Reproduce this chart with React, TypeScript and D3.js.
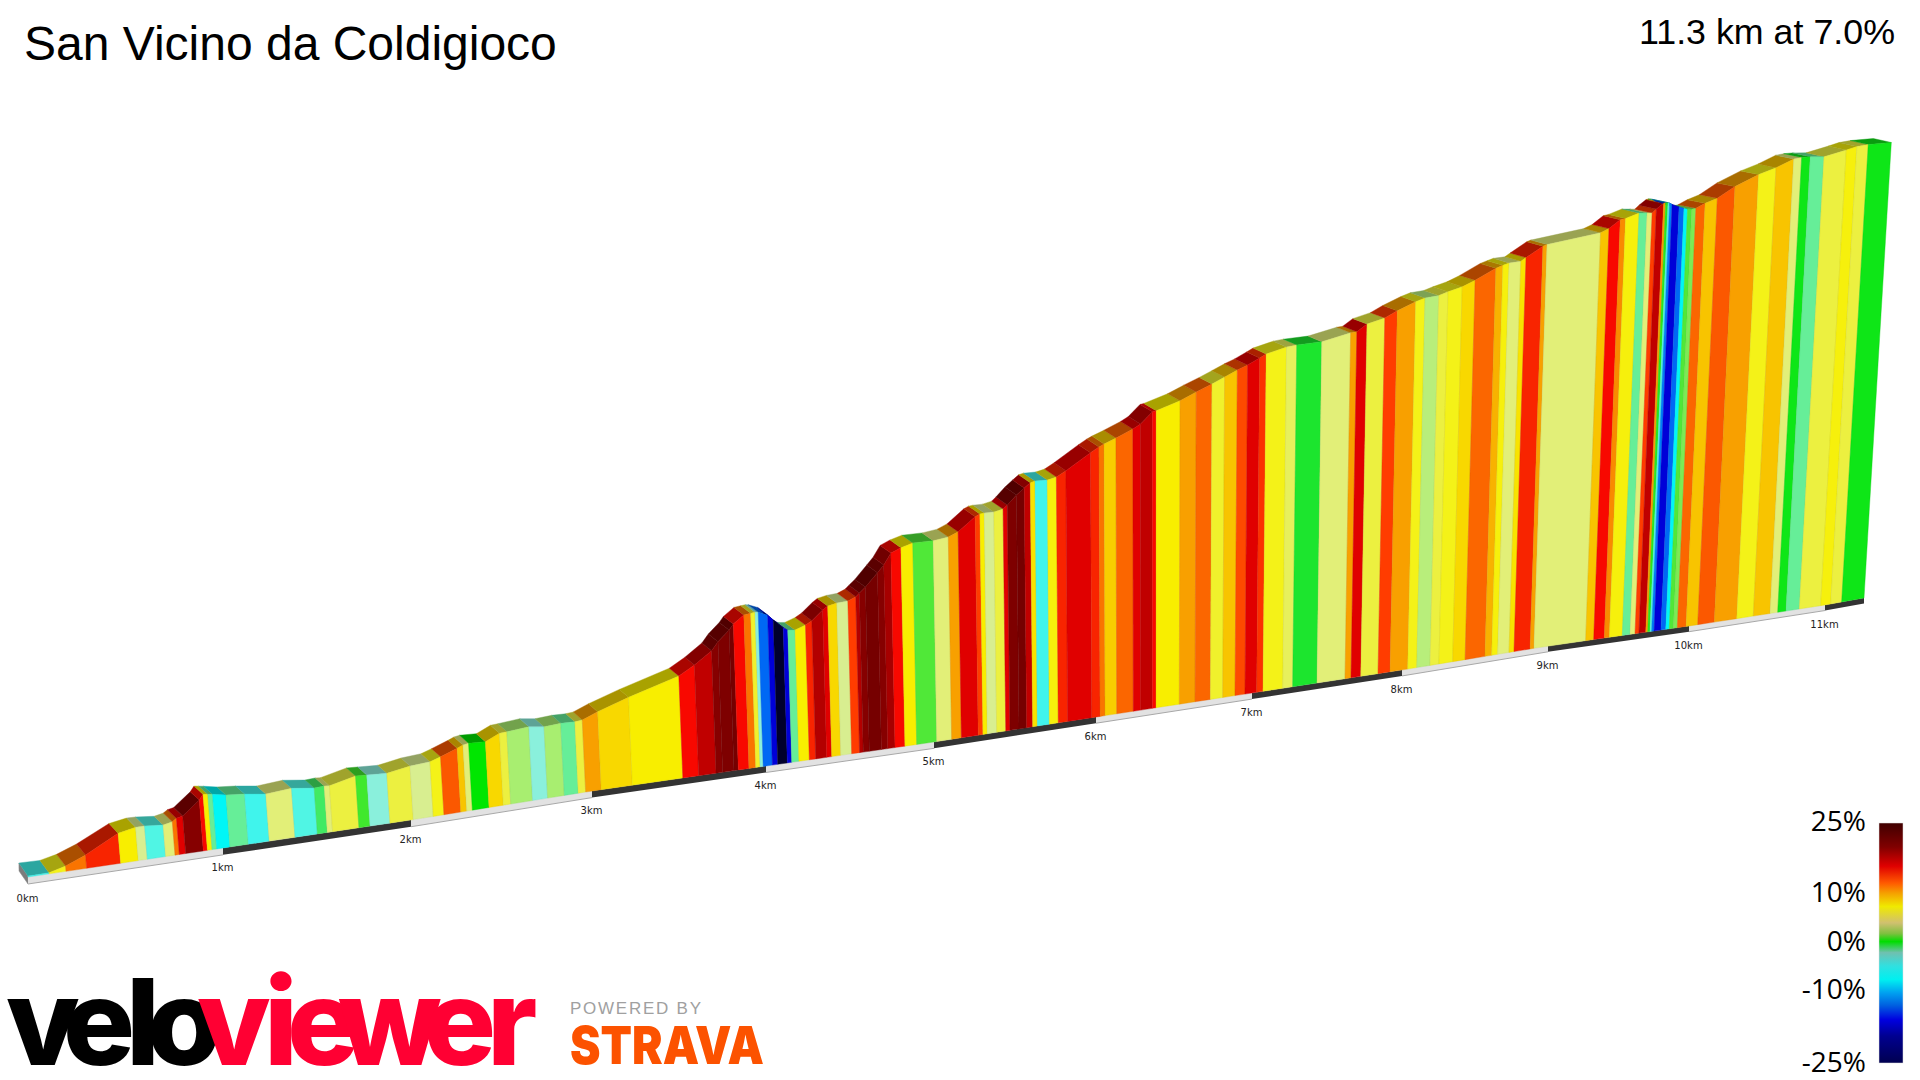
import React from "react";
import * as d3 from "d3";

// Stripe boundaries along the climb
const distanceKm = [0,0.108,0.195,0.301,0.475,0.566,0.612,0.706,0.754,0.776,0.809,0.899,0.92,0.944,0.968,1.037,1.135,1.246,1.383,1.502,1.555,1.583,1.723,1.782,1.888,2.013,2.123,2.182,2.275,2.308,2.339,2.431,2.51,2.551,2.672,2.755,2.847,2.924,2.965,3.053,3.232,3.522,3.613,3.713,3.751,3.816,3.841,3.902,3.941,3.966,3.984,4.038,4.07,4.127,4.153,4.196,4.258,4.296,4.361,4.391,4.445,4.51,4.557,4.579,4.615,4.687,4.725,4.768,4.827,4.897,5.017,5.109,5.169,5.273,5.302,5.329,5.387,5.443,5.469,5.525,5.572,5.609,5.638,5.712,5.767,5.825,5.974,6.026,6.058,6.133,6.239,6.287,6.361,6.385,6.534,6.635,6.733,6.812,6.891,6.955,7.031,7.073,7.205,7.271,7.433,7.62,7.66,7.725,7.84,7.92,8.039,8.101,8.192,8.253,8.347,8.432,8.568,8.614,8.655,8.733,8.767,8.877,8.904,9.267,9.324,9.399,9.435,9.527,9.582,9.617,9.645,9.693,9.707,9.723,9.735,9.752,9.801,9.835,9.86,9.889,9.917,9.979,10.064,10.186,10.351,10.473,10.596,10.652,10.713,10.811,10.968,11.044,11.128,11.3];

const elevationM = [2,2.4,10.6,26.6,59.8,66.6,66.6,63,66.8,72.4,75,101.8,112,110.6,109.2,104,100.4,94.2,98,91.8,93,92,103.6,102.2,99.6,107.2,109.4,116,127.4,132.2,133.8,131.6,143.8,144.6,147.6,142.8,144.2,143,144,156,175.8,204,221.4,245,261,281.2,292,307,308.4,309.2,308.2,300.2,288.6,270.6,264.6,262.6,269.6,276.4,294.6,301.2,304.6,305.6,311.8,318.2,328.4,353.6,367.2,389,397,403,401.8,404.6,412.2,437,441,441.6,440.6,443.8,450.6,467.8,479.4,488.2,490,488.4,491.6,501.4,530,538.8,543.2,551.6,564.6,572.2,593.2,594.2,607,619.6,630.8,641,651.2,658.2,668.6,674.6,682.6,683.6,682.6,692,692.2,704.6,711.4,722.2,734.8,739.4,739.8,744.4,750,758.8,776.4,779.8,782.6,782.2,788,805.6,807.6,816,821.8,836.6,837.8,845,842.8,841.4,848.2,857.6,858.4,857.6,856.6,853,846.6,842,839,837.8,838.8,846.2,852.8,871.2,888.2,896.8,909,909.8,908.6,904.6,911.4,915,915,911];

// Gradient (%) of the stripe ending at each boundary after the first
const gradePct = [-6,6,11,14,7,3.5,-5,4,11,16,19,15,7,-2,-8,-2,-6,4,-5,-1.5,4,5,0.8,-3,5,3.5,6,12,9,4,0,8,5,2,-3,2,-2,5,10,8,7,15,17,19,19.5,20,15,11,5.5,-3,-13,-16,-25,-16,-2,7,14,17.5,16,8,3.5,13,17.5,19,20,19,18,15,7,1,4,10,16,13,7,3.5,5,16,19.5,20,17,7.5,-6,6.5,14,16,14,11,8.5,11.5,16,17,15,7,10,11.5,5.5,9,12.5,16,13.5,6,4.5,-1,4,10,16,5,13,10,6,2.5,5,6,8,11.5,9.5,6.5,4,7.5,14,10,4,9,15,10.5,6.5,-2,4,13,17,10,0.5,-5,-12,-16,-13,-8,1,1.5,11.5,9,12,10,6,9,4,-0.5,-2,5,6.5,5,-0.5];

// Kilometre ticks
const kmTicks = [0,1,2,3,4,5,6,7,8,9,10,11];
const tickLabels = ["0km","1km","2km","3km","4km","5km","6km","7km","8km","9km","10km","11km"];
const totalKm = 11.3;

// Colour ramp of the stripes
const rampGrades = [-25,-20,-16,-13,-10,-8,-6,-5,-3,-2,-1,0,1,2,3.5,4,5,6,7,8,9,10,11,12,13,14,15,16,17,18,19,20,25];
const rampColours = ["#00002c","#000048","#0000d8","#0068f4","#00a8ff","#00f6f6","#40f4ec","#50f5e4","#8af0dc","#66ee98","#1ce52e","#00e600","#50e838","#a8ee70","#d8ee90","#e2ef78","#ecf040","#f4f218","#f8ee00","#f8d800","#f8c400","#f8a000","#fa7400","#fb5800","#ff3c00","#f82400","#f80800","#e00000","#c00000","#a60000","#860000","#760000","#3a0000"];

// Legend
const legendGrades = [25,20,16,12.5,10.4,7.6,4.2,2,0.3,-2,-4.8,-7.6,-10.4,-13,-16,-19.4,-25];
const legendColours = ["#400000","#800000","#e00000","#ff5a00","#f5a000","#f0ea00","#d0c070","#80c040","#00dd00","#70c0b0","#30e0e0","#00f0f0","#00a0f0","#0060e0","#0000e0","#000090","#000050"];
const legendTicks = [25,10,0,-10,-25];
const legendText = ["25%","10%","0%","-10%","-25%"];

const title = "San Vicino da Coldigioco";
const summary = "11.3 km at 7.0%";

// Projection of the road onto the page
const knotKm = [...kmTicks, totalKm];
const x0 = d3.scaleLinear().domain(knotKm).range([28,223,411,592,766,934,1096,1252,1402,1548,1689,1825,1864]);
const yBase = d3.scaleLinear().domain(knotKm).range([877,848,820,791,766,742,717,693,670,646,626,605,598]);
const bandH = d3.scaleLinear().domain([0,totalKm]).range([7,5.5]);
const elevPx = d3.scaleLinear().domain([0,1000]).range([0,500]);
const backDx = d3.scaleLinear().domain([0,1,3,4,7,10,totalKm]).range([-9,-9,-9,-10,-13,-18,-18]);
const backDy = d3.scaleLinear().domain([0,0.6,1,3,4,6,7,10,totalKm]).range([-13,-9,-8,-8,-7.5,-8,-6,-3.5,-4]);
const lean = (x: number, h: number) => h * 8.4e-5 * (x - 1150);

const gradeColour = d3.scaleLinear<string>().domain(rampGrades).range(rampColours);
const shade = (c: string) => {
  const r = d3.rgb(c);
  return d3.rgb(r.r * 0.68, r.g * 0.68, r.b * 0.68).formatHex();
};
const poly = d3.line<[number, number]>();

const legendY = d3.scaleLinear().domain([25,-25]).range([823,1063]);
const legendLabelY = [821,892,941,989,1062];

const SANS = "'Liberation Sans', Arial, sans-serif";
const LOGO = "Inter, 'Liberation Sans', sans-serif";

function topPoint(i: number): [number, number] {
  const km = distanceKm[i];
  const bx = x0(km);
  const h = elevPx(elevationM[i]);
  return [bx + lean(bx, h), yBase(km) - h];
}

export default function App() {
  const stripes = gradePct.map((g, idx) => {
    const a = distanceKm[idx], b = distanceKm[idx + 1];
    const ta = topPoint(idx), tb = topPoint(idx + 1);
    const col = gradeColour(g);
    const front = poly([[x0(a), yBase(a)], ta, tb, [x0(b), yBase(b)]]) + "Z";
    const ribbon = poly([ta, tb, [tb[0] + backDx(b), tb[1] + backDy(b)], [ta[0] + backDx(a), ta[1] + backDy(a)]]) + "Z";
    return { col, front, ribbon, key: idx };
  });

  const bandEdges = [...kmTicks, totalKm];
  const bands = kmTicks.map((k, i) => {
    const n = bandEdges[i + 1];
    const dark = i % 2 === 1;
    const d = poly([
      [x0(k), yBase(k)], [x0(n), yBase(n)],
      [x0(n), yBase(n) + bandH(n)], [x0(k), yBase(k) + bandH(k)],
    ]) + "Z";
    const under = poly([[x0(k), yBase(k) + bandH(k)], [x0(n), yBase(n) + bandH(n)]]) as string;
    return { d, dark, under, key: k };
  });

  const s0 = topPoint(0);
  const sideFace = poly([
    [s0[0] + backDx(0), s0[1] + backDy(0)], s0,
    [x0(0), yBase(0) + bandH(0)],
    [x0(0) + backDx(0), yBase(0) + bandH(0) + backDy(0)],
  ]) + "Z";

  return (
    <svg width={1920} height={1080} viewBox="0 0 1920 1080"
      style={{ position: "absolute", left: 0, top: 0, display: "block", background: "#fff" }}>
      <defs>
        <linearGradient id="legendRamp" x1="0" x2="0" y1="0" y2="1">
          {legendGrades.map((g, i) => (
            <stop key={g} offset={(legendY(g) - 823) / 240} stopColor={legendColours[i]} />
          ))}
        </linearGradient>
      </defs>

      <text x={24} y={60} fontFamily={SANS} fontSize={48} fill="#000">{title}</text>
      <text x={1895} y={44} textAnchor="end" fontFamily={SANS} fontSize={35.8} fill="#000">{summary}</text>

      <path d={sideFace} fill="#7c7c7c" stroke="#8a8a8a" strokeWidth={0.5} />
      <g>
        {stripes.map(s => (
          <path key={"r" + s.key} d={s.ribbon} fill={shade(s.col)} stroke={shade(s.col)} strokeWidth={0.4} />
        ))}
      </g>
      <g>
        {bands.map(b => (
          <g key={b.key}>
            <path d={b.d} fill={b.dark ? "#333333" : "#e2e2e2"} />
            {!b.dark && <path d={b.under} fill="none" stroke="#a8a8a8" strokeWidth={1} />}
          </g>
        ))}
      </g>
      <g>
        {stripes.map(s => (
          <path key={"f" + s.key} d={s.front} fill={s.col} stroke={d3.rgb(s.col).darker(0.35).formatHex()} strokeOpacity={0.55} strokeWidth={0.7} />
        ))}
      </g>
      <g>
        {kmTicks.map((k, i) => (
          <text key={k} x={x0(k) - 0.5} y={yBase(k) + (k === 0 ? 24.5 : 23)} textAnchor="middle"
            fontFamily="'DejaVu Sans', sans-serif" fontSize={10} fill="#222">{tickLabels[i]}</text>
        ))}
      </g>

      <rect x={1879} y={823} width={24} height={240} fill="url(#legendRamp)" stroke="#ddd" strokeWidth={0.5} />
      {legendTicks.map((t, i) => (
        <text key={t} x={1866} y={legendLabelY[i] + 10} textAnchor="end"
          fontFamily="'Open Sans', sans-serif" fontSize={28} fill="#000">{legendText[i]}</text>
      ))}

      <text y={1065} x="6 63 126 147" fontFamily={LOGO} fontWeight={800} fontSize={120} fill="#000">velo</text>
      <text y={1065} x="197 264 287 338 424 487" fontFamily={LOGO} fontWeight={800} fontSize={120} fill="#ff0033">viewer</text>
      <text x={570} y={1014} fontFamily={SANS} fontSize={17} fill="#a0a0a0" textLength={131} lengthAdjust="spacing">POWERED BY</text>
      <text x={570} y={1064} fontFamily={LOGO} fontWeight={900} fontSize={52} fill="#fc5200" textLength={194} lengthAdjust="spacingAndGlyphs">STRAVA</text>
    </svg>
  );
}
